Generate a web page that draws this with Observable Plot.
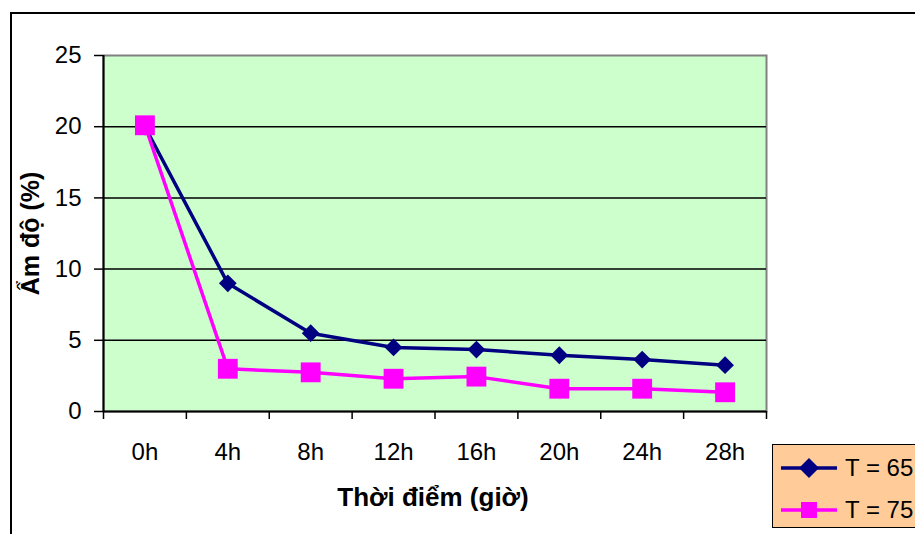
<!DOCTYPE html>
<html>
<head>
<meta charset="utf-8">
<script src="https://cdn.jsdelivr.net/npm/d3@7"></script>
<script src="https://cdn.jsdelivr.net/npm/@observablehq/plot@0.6"></script>
<style>
  html, body { margin: 0; padding: 0; background: #fff; overflow: hidden; width: 915px; height: 534px; }
  #wrap { position: relative; width: 915px; height: 534px; font-family: "Liberation Sans", Arial, sans-serif; }
  #border { position: absolute; left: 10px; top: 12px; width: 1000px; height: 600px; border: 2px solid #000; box-sizing: border-box; }
  #chart { position: absolute; left: 0; top: 0; }
  #legend { position: absolute; left: 772px; top: 444px; width: 200px; height: 84px; background: #FFCC99; border: 1.5px solid #000; box-sizing: border-box; }
  .item { position: absolute; left: 8px; height: 30px; display: flex; align-items: center; font-size: 24px; color: #000; }
  .item svg { margin-right: 8px; }
</style>
</head>
<body>
<div id="wrap">
  <div id="border"></div>
  <div id="chart"></div>
  <div id="legend"></div>
</div>
<script>
const categories = ["0h", "4h", "8h", "12h", "16h", "20h", "24h", "28h"];
const seriesNames = ["T = 65", "T = 75"];
const t65 = [20.0, 9.0, 5.5, 4.5, 4.35, 3.95, 3.65, 3.25];
const t75 = [20.1, 3.0, 2.75, 2.3, 2.45, 1.6, 1.6, 1.35];
const yTicks = [0, 5, 10, 15, 20, 25];
const gridTicks = [5, 10, 15, 20];
const colors = ["#000080", "#FF00FF"];
const xTitle = "Thời điểm (giờ)";
const yTitle = "Ẩm độ (%)";

const idx = categories.map((_, i) => i);
const bounds = d3.range(categories.length + 1).map(i => i - 0.5);
const rows65 = t65.map((v, i) => ({i, v}));
const rows75 = t75.map((v, i) => ({i, v}));

const chart = Plot.plot({
  width: 915,
  height: 534,
  marginLeft: 103,
  marginRight: 149,
  marginTop: 55,
  marginBottom: 123,
  style: { fontFamily: "Liberation Sans, Arial, sans-serif", fontSize: "24px", color: "#000", background: "transparent", overflow: "visible" },
  x: { type: "linear", domain: [-0.5, categories.length - 0.5] },
  y: { domain: [0, 25] },
  marks: [
    Plot.frame({ fill: "#CCFFCC", stroke: "#808080", strokeWidth: 2 }),
    Plot.gridY(gridTicks, { stroke: "#000", strokeOpacity: 1, strokeWidth: 1.5 }),
    Plot.ruleX([bounds[0]], { stroke: "#000", strokeWidth: 2 }),
    Plot.ruleY([0], { stroke: "#000", strokeWidth: 2 }),
    Plot.axisY(yTicks, { tickSize: 9, tickPadding: 13, strokeWidth: 1.5, label: null, fontSize: 24 }),
    Plot.axisX(bounds, { tickSize: 8, tickFormat: () => "", strokeWidth: 1.5, label: null }),
    Plot.axisX(idx, { tickSize: 0, tickPadding: 31, tickFormat: i => categories[i], label: null, fontSize: 24 }),
    Plot.line(rows65, { x: "i", y: "v", stroke: colors[0], strokeWidth: 3.5 }),
    Plot.dot(rows65, { x: "i", y: "v", symbol: "diamond2", r: 8, fill: colors[0], stroke: null }),
    Plot.line(rows75, { x: "i", y: "v", stroke: colors[1], strokeWidth: 3.5 }),
    Plot.dot(rows75, { x: "i", y: "v", symbol: "square", r: 11.2, fill: colors[1], stroke: null }),
    Plot.text([xTitle], { frameAnchor: "bottom", dy: 86, dx: -2, lineAnchor: "middle", fontWeight: "bold", fontSize: 26, text: d => d }),
    Plot.text([yTitle], { frameAnchor: "left", dx: -73, rotate: -90, lineAnchor: "middle", textAnchor: "middle", fontWeight: "bold", fontSize: 25, text: d => d })
  ]
});
document.getElementById("chart").appendChild(chart);

// legend
const legend = document.getElementById("legend");
seriesNames.forEach((name, k) => {
  const item = document.createElement("div");
  item.className = "item";
  item.style.top = (k === 0 ? 8 : 50) + "px";
  const sym = k === 0
    ? `<polygon points="28,3 38,13 28,23 18,13" fill="${colors[0]}"/>`
    : `<rect x="20" y="5" width="16" height="16" fill="${colors[1]}"/>`;
  item.innerHTML = `<svg width="56" height="26"><line x1="0" x2="56" y1="13" y2="13" stroke="${colors[k]}" stroke-width="3.5"/>${sym}</svg><span>${name}</span>`;
  legend.appendChild(item);
});
</script>
</body>
</html>
